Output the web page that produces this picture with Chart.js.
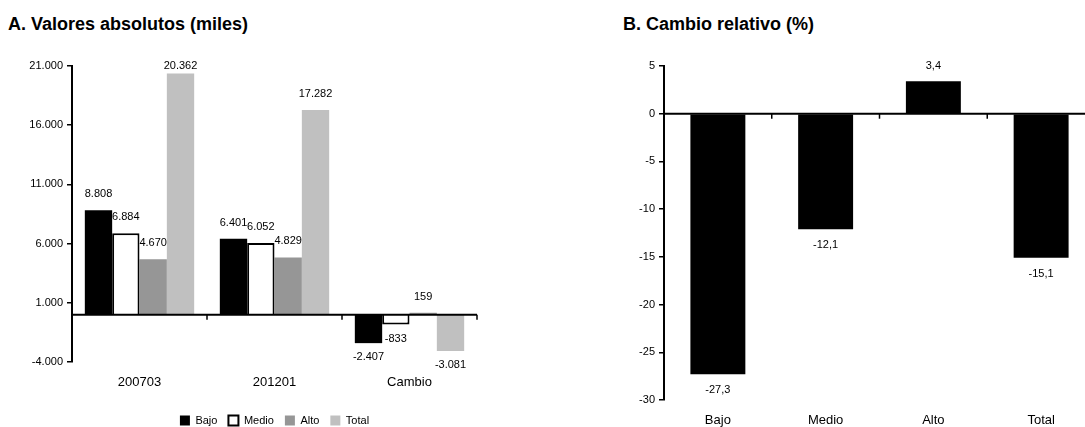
<!DOCTYPE html>
<html>
<head>
<meta charset="utf-8">
<script src="https://cdn.jsdelivr.net/npm/chart.js@4/dist/chart.umd.min.js"></script>
<style>
    html, body { margin: 0; padding: 0; background: #fff; overflow: hidden; }
    #wrap { position: relative; width: 1085px; height: 427px; overflow: hidden; font-family: Arial, "Liberation Sans", sans-serif; }
    .titulo { position: absolute; font-size: 18px; font-weight: bold; color: #000; line-height: 20px; white-space: nowrap; }
    .caja { position: absolute; }
</style>
</head>
<body>
<div id="wrap">
    <div class="titulo" style="left:8px; top:14px;">A. Valores absolutos (miles)</div>
    <div class="titulo" style="left:623px; top:14px;">B. Cambio relativo (%)</div>
    <div class="caja" style="left:0; top:40px; width:540px; height:396px;"><canvas id="chartA"></canvas></div>
    <div class="caja" style="left:540px; top:40px; width:560px; height:387px;"><canvas id="chartB"></canvas></div>
</div>
<script>
// Datos panel A (miles)
const categoriasA = ['200703', '201201', 'Cambio'];
const seriesNombres = ['Bajo', 'Medio', 'Alto', 'Total'];
const bajoA = [8808, 6401, -2407];
const medioA = [6884, 6052, -833];
const altoA = [4670, 4829, 159];
const totalA = [20362, 17282, -3081];
const ticksA = [-4000, 1000, 6000, 11000, 16000, 21000];

// Datos panel B (%)
const categoriasB = ['Bajo', 'Medio', 'Alto', 'Total'];
const cambioB = [-27.3, -12.1, 3.4, -15.1];
const ticksB = [-30, -25, -20, -15, -10, -5, 0, 5];

const fuente = 'Arial, "Liberation Sans", sans-serif';
Chart.defaults.font.family = fuente;
Chart.defaults.font.size = 11;
Chart.defaults.color = '#000';

function puntos(v) {
    const s = Math.abs(v).toString().replace(/\B(?=(\d{3})+(?!\d))/g, '.');
    return (v < 0 ? '-' : '') + s;
}
function coma(v) {
    return v.toFixed(1).replace('.', ',');
}

// linea del cero con marcas entre categorias
const lineaCero = {
    id: 'lineaCero',
    afterDatasetsDraw(chart) {
        const { ctx, chartArea, scales } = chart;
        const y0 = scales.y.getPixelForValue(0);
        const n = chart.data.labels.length;
        const paso = scales.x.width / n;
        ctx.save();
        ctx.strokeStyle = '#000';
        ctx.lineWidth = 2;
        ctx.beginPath();
        ctx.moveTo(chartArea.left, y0);
        ctx.lineTo(chartArea.right, y0);
        ctx.stroke();
        ctx.lineWidth = 1.5;
        for (let i = 1; i <= n; i++) {
            const x = scales.x.left + i * paso;
            ctx.beginPath();
            ctx.moveTo(x, y0);
            ctx.lineTo(x, y0 + 5);
            ctx.stroke();
        }
        ctx.restore();
    }
};

// etiquetas de valor sobre/bajo cada barra (no salen por arriba del area)
const etiquetas = {
    id: 'etiquetas',
    afterDraw(chart, args, opts) {
        const ctx = chart.ctx;
        const tope = chart.chartArea.top;
        ctx.save();
        ctx.font = '11px ' + fuente;
        ctx.fillStyle = '#000';
        ctx.textAlign = 'center';
        ctx.textBaseline = 'middle';
        chart.data.datasets.forEach((ds, di) => {
            const meta = chart.getDatasetMeta(di);
            meta.data.forEach((el, i) => {
                const v = ds.data[i];
                let y = v >= 0 ? el.y - opts.arriba : el.y + opts.abajo;
                if (y < tope) y = tope;
                ctx.fillText(opts.formato(v), el.x, y);
            });
        });
        ctx.restore();
    }
};

const ejeY = (min, max, lista, fmt, ancho) => ({
    min: min,
    max: max,
    afterBuildTicks: s => { s.ticks = lista.map(v => ({ value: v })); },
    afterFit: s => { s.width = ancho; },
    ticks: { callback: v => fmt(v), padding: 4, color: '#000', font: { size: 11 } },
    grid: { drawOnChartArea: false, drawTicks: true, tickLength: 5, color: '#000', lineWidth: 1.5 },
    border: { display: true, color: '#000', width: 2 }
});

new Chart(document.getElementById('chartA'), {
    type: 'bar',
    data: {
        labels: categoriasA,
        datasets: [
            { label: seriesNombres[0], data: bajoA, backgroundColor: '#000000', borderColor: '#000000', borderWidth: 0 },
            { label: seriesNombres[1], data: medioA, backgroundColor: '#ffffff', borderColor: '#000000', borderWidth: 2 },
            { label: seriesNombres[2], data: altoA, backgroundColor: '#969696', borderColor: '#969696', borderWidth: 0 },
            { label: seriesNombres[3], data: totalA, backgroundColor: '#c0c0c0', borderColor: '#c0c0c0', borderWidth: 0 }
        ]
    },
    options: {
        responsive: true,
        maintainAspectRatio: false,
        animation: false,
        categoryPercentage: 0.81,
        barPercentage: 1.0,
        layout: { padding: { left: 0, right: 63, top: 26, bottom: 0 } },
        scales: {
            x: {
                afterFit: s => { s.height = 42; },
                ticks: { padding: 13, color: '#000', font: { size: 13 } },
                grid: { display: false, drawTicks: false },
                border: { display: false }
            },
            y: ejeY(-4000, 21000, ticksA, puntos, 72)
        },
        plugins: {
            legend: {
                position: 'bottom',
                fullSize: false,
                labels: { boxWidth: 10, boxHeight: 10, padding: 11, color: '#000', font: { size: 11 } }
            },
            tooltip: { enabled: false },
            etiquetas: { arriba: 16, abajo: 14, formato: puntos }
        }
    },
    plugins: [lineaCero, etiquetas]
});

new Chart(document.getElementById('chartB'), {
    type: 'bar',
    data: {
        labels: categoriasB,
        datasets: [
            { label: 'Cambio relativo', data: cambioB, backgroundColor: '#000000', borderWidth: 0 }
        ]
    },
    options: {
        responsive: true,
        maintainAspectRatio: false,
        animation: false,
        categoryPercentage: 1.0,
        barPercentage: 0.51,
        layout: { padding: { left: 0, right: 5, top: 26, bottom: 0 } },
        scales: {
            x: {
                afterFit: s => { s.height = 27; },
                ticks: { padding: 13, color: '#000', font: { size: 13 } },
                grid: { display: false, drawTicks: false },
                border: { display: false }
            },
            y: ejeY(-30, 5, ticksB, v => String(v), 124)
        },
        plugins: {
            legend: { display: false },
            tooltip: { enabled: false },
            etiquetas: { arriba: 15, abajo: 16, formato: coma }
        }
    },
    plugins: [lineaCero, etiquetas]
});
</script>
</body>
</html>
